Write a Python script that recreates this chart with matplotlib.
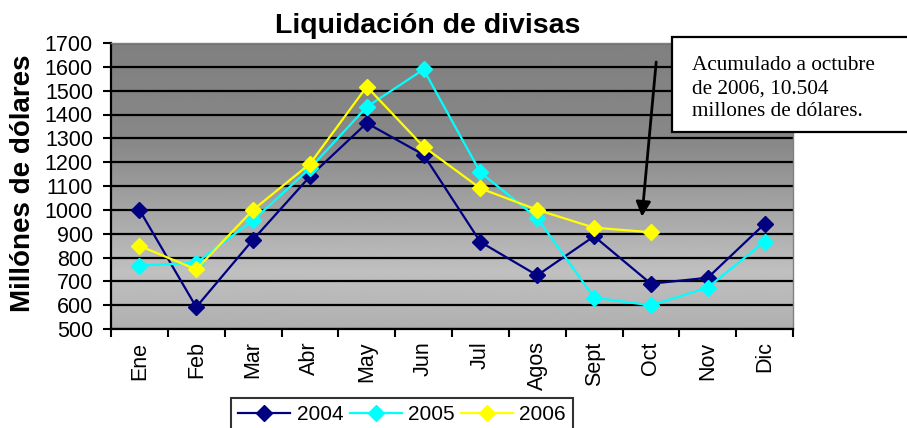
import numpy as np
import matplotlib.pyplot as plt
from matplotlib.patches import Rectangle

meses = ['Ene', 'Feb', 'Mar', 'Abr', 'May', 'Jun', 'Jul', 'Agos', 'Sept', 'Oct', 'Nov', 'Dic']
v2004 = [1000, 592, 875, 1140, 1364, 1231, 865, 725, 889, 690, 715, 941]
v2005 = [766, 778, 956, 1174, 1432, 1589, 1157, 965, 632, 599, 674, 867]
v2006 = [849, 750, 1000, 1193, 1517, 1265, 1090, 1000, 925, 906]
y_ticks = list(range(500, 1800, 100))

plt.rcParams['font.family'] = ['Liberation Sans', 'DejaVu Sans']

fig = plt.figure(figsize=(9.07, 4.28), dpi=100)
ax = fig.add_axes([111/907, 1-329/428, 682/907, 286/428])

# fondo degradado del area de trazado (oscuro arriba, claro abajo)
t = np.linspace(0, 1, 300)
g = np.interp(t, [0, 0.35, 0.8, 1.0], [128, 136, 192, 176])
img = np.repeat(g[:, None], 2, axis=1)
ax.imshow(img, extent=[0, 1, 0, 1], transform=ax.transAxes, aspect='auto',
          cmap='gray', vmin=0, vmax=255, zorder=0, interpolation='bilinear')

x = np.arange(len(meses))
ax.plot(x, v2004, color='#000080', marker='D', ms=8.5, lw=1.6, label='2004', zorder=3)
ax.plot(x, v2005, color='#00FFFF', marker='D', ms=8.5, lw=1.6, label='2005', zorder=3)
ax.plot(x[:len(v2006)], v2006, color='#FFFF00', marker='D', ms=8.5, lw=1.6, label='2006', zorder=3)

ax.set_xlim(-0.5, len(meses) - 0.5)
ax.set_ylim(500, 1700)
ax.set_yticks(y_ticks)
ax.yaxis.grid(True, color='black', lw=1.6)
ax.set_axisbelow(True)

ax.set_xticks(x)
ax.set_xticklabels(meses, rotation=90, fontsize=15.5)
ax.set_xticks(np.arange(-0.5, len(meses)), minor=True)
ax.tick_params(axis='x', which='major', length=0, pad=9)
ax.tick_params(axis='x', which='minor', length=6, width=1.5, direction='out')
ax.tick_params(axis='y', labelsize=15.5, length=6, width=1.5, direction='out', pad=7)

for s in ['left', 'bottom']:
    ax.spines[s].set_linewidth(1.6)
    ax.spines[s].set_color('black')
for s in ['top', 'right']:
    ax.spines[s].set_linewidth(1)
    ax.spines[s].set_color('#808080')

fig.text(428/907, 1-33/428, 'Liquidación de divisas', ha='center', va='baseline',
         fontsize=20.5, fontweight='bold')
fig.text(23/907, 1-183/428, 'Millónes de dólares', rotation=90, ha='center', va='center',
         fontsize=20, fontweight='bold')

leg = fig.legend(loc='upper left', bbox_to_anchor=(231/907, 1-398/428), ncol=3,
                 fontsize=15, frameon=True, fancybox=False, edgecolor='black',
                 handlelength=2.5, handletextpad=0.3, columnspacing=0.3,
                 borderpad=0.35, borderaxespad=0)
leg.get_frame().set_linewidth(1.5)

# cuadro de texto
fig.add_artist(Rectangle((672/907, 1-132/428), 240/907, 95/428, transform=fig.transFigure,
                         facecolor='white', edgecolor='black', lw=1.6, zorder=5))
fig.text(692/907, 1-56/428, 'Acumulado a octubre\nde 2006, 10.504\nmillones de dólares.',
         ha='left', va='top', fontsize=15.3, family=['Liberation Serif', 'DejaVu Serif'],
         linespacing=1.3, zorder=6)

ax.annotate('', xy=(0.7785, 0.3927), xytext=(0.7994, 0.9336), xycoords='axes fraction',
            arrowprops=dict(arrowstyle='-|>', color='black', lw=2, mutation_scale=22,
                            shrinkA=0, shrinkB=0), zorder=4)

fig.savefig('out.png', dpi=100)
